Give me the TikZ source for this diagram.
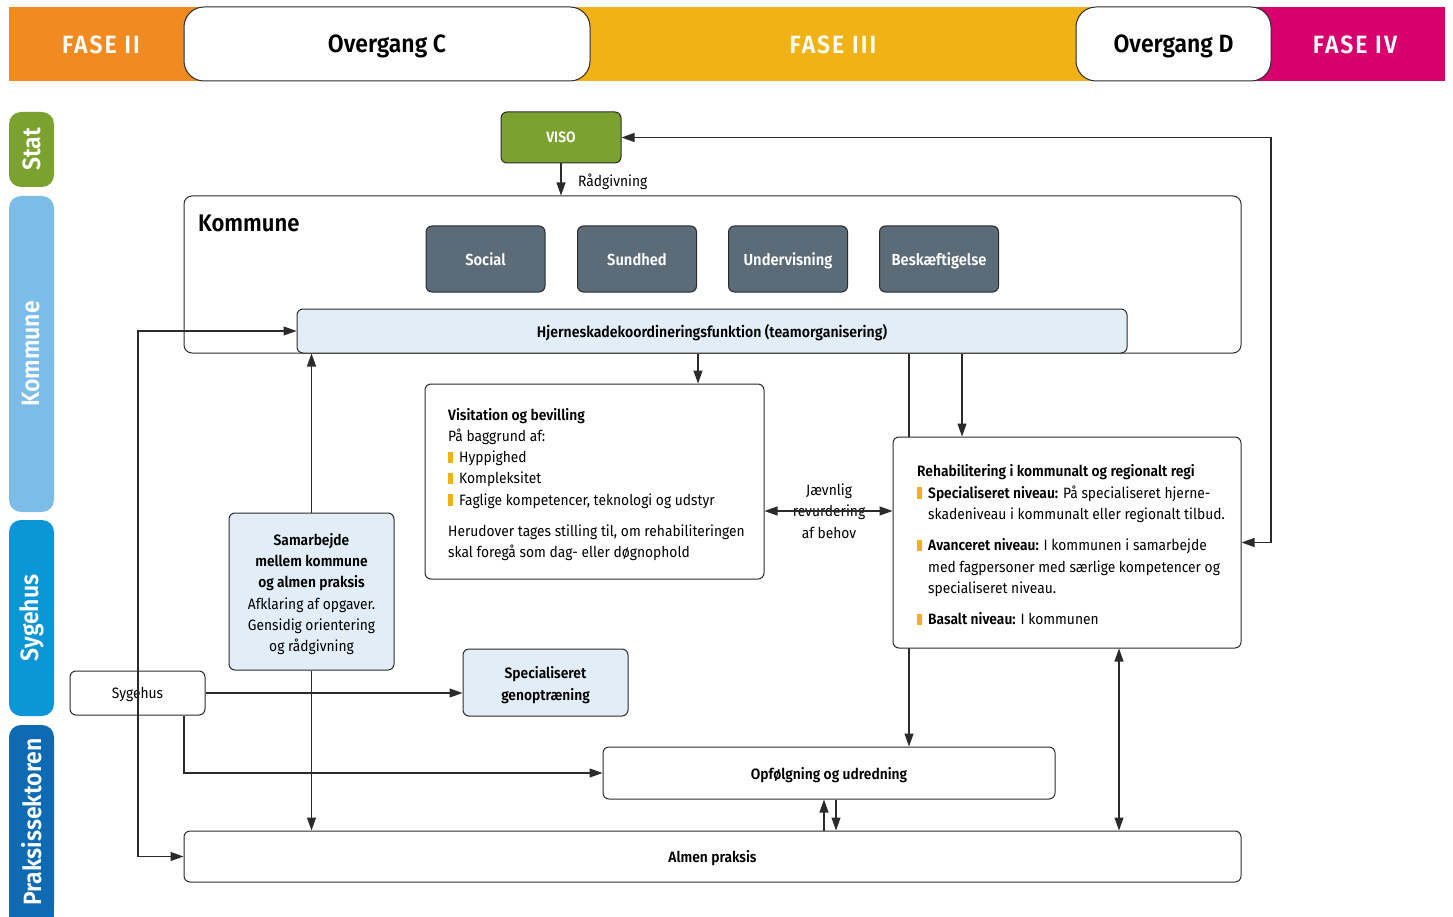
\documentclass[tikz,border=0pt]{standalone}
\usepackage{fontspec}
\setmainfont{Fira Sans}[FakeStretch=0.92,BoldFont={Fira Sans SemiBold}]
\usetikzlibrary{arrows.meta,calc,backgrounds}
\definecolor{faseo}{HTML}{F18B21}
\definecolor{fasey}{HTML}{F0B214}
\definecolor{fasem}{HTML}{D7006C}
\definecolor{statg}{HTML}{7BA22F}
\definecolor{komb}{HTML}{7CBDE8}
\definecolor{sygb}{HTML}{0B96D7}
\definecolor{prab}{HTML}{0F6AB4}
\definecolor{dgray}{HTML}{5B6B77}
\definecolor{lblue}{HTML}{E1EEF8}
\definecolor{lc}{HTML}{2B2B2B}
\newcommand\bul{\textcolor{fasey}{\rule[-0.5pt]{5pt}{11.5pt}}\hspace{6pt}}
\newcommand\ind{\hspace*{11pt}}
\begin{document}
\begin{tikzpicture}[x=1pt,y=-1pt,
  box/.style={draw=lc,line width=1pt,rounded corners=6pt,fill=white,inner sep=0pt,
    font=\fontsize{15}{21.3}\selectfont},
  one/.style={text depth=0pt},
  topbox/.style={draw=lc,line width=1pt,rounded corners=20pt,fill=white,inner sep=0pt,text depth=0pt,
    font=\fontsize{25}{28}\selectfont\bfseries},
  fasetxt/.style={text=white,font=\fontsize{25}{28}\selectfont\bfseries\addfontfeature{LetterSpace=8},inner sep=0pt},
  side/.style={rounded corners=12pt,inner sep=0pt,rotate=90,minimum height=45pt,
    text=white,font=\fontsize{25}{28}\selectfont\bfseries},
  gbox/.style={box,one,fill=dgray,text=white,minimum width=119pt,minimum height=66pt,
    font=\fontsize{16}{19}\selectfont\bfseries},
  txt/.style={inner sep=0pt,align=left,font=\fontsize{15}{21.3}\selectfont},
  arr/.style={line width=1.1pt,draw=lc,-{Triangle[length=13pt,width=9pt]}},
  darr/.style={line width=1.1pt,draw=lc,{Triangle[length=13pt,width=9pt]}-{Triangle[length=13pt,width=9pt]}}]
\useasboundingbox (0,0) rectangle (1453,917);
% top bar
\fill[faseo] (9,7) rectangle (400,81);
\fill[fasey] (400,7) rectangle (1170,81);
\fill[fasem] (1170,7) rectangle (1445,81);
\node[topbox,minimum width=406pt,minimum height=74pt] (ovc) at (387,44) {Overgang C};
\node[topbox,minimum width=195pt,minimum height=74pt] (ovd) at (1173.5,44) {Overgang D};
\node[fasetxt] (f2) at (101,45) {FASE II};
\node[fasetxt] (f3) at (833,45) {FASE III};
\node[fasetxt] (f4) at (1355,45) {FASE IV};
% side bars
\node[side,fill=statg,minimum width=75pt] (sstat) at (31.5,149.5) {Stat};
\node[side,fill=komb,minimum width=316pt] (skom) at (31.5,354) {Kommune};
\node[side,fill=sygb,minimum width=196pt] (ssyg) at (31.5,618) {Sygehus};
\fill[prab] (9,850) rectangle (54,917);
\node[side,fill=prab,minimum width=194pt] (sprak) at (31.5,822) {Praksissektoren};
% VISO
\node[box,one,fill=statg,text=white,minimum width=120pt,minimum height=51pt,
  font=\fontsize{15}{18}\selectfont\bfseries] (viso) at (561,137.5) {VISO};
% Kommune
\node[box,rounded corners=8pt,minimum width=1057pt,minimum height=157pt] (kom) at (712.5,274.5) {};
\node[inner sep=0pt,anchor=west,font=\fontsize{24}{28}\selectfont\bfseries] (komlab) at (198,223) {Kommune};
\node[gbox] (soc) at (485.5,259) {Social};
\node[gbox] (sun) at (637,259) {Sundhed};
\node[gbox] (und) at (788,259) {Undervisning};
\node[gbox] (bes) at (939,259) {Beskæftigelse};
\node[box,one,fill=lblue,minimum width=830pt,minimum height=44pt,font=\fontsize{15.3}{19}\selectfont\bfseries] (hj) at (712,331)
  {Hjerneskadekoordineringsfunktion (teamorganisering)};
% Visitation
\node[box,minimum width=339pt,minimum height=195pt] (vis) at (594.5,481.5) {};
\node[txt,anchor=west] (vistxt) at (448,484.5) {\textbf{Visitation og bevilling}\\
  På baggrund af:\\
  \bul Hyppighed\\
  \bul Kompleksitet\\
  \bul Faglige kompetencer, teknologi og udstyr\\[10pt]
  Herudover tages stilling til, om rehabiliteringen\\
  skal foregå som dag- eller døgnophold};
% Rehabilitering
\node[box,minimum width=348pt,minimum height=211pt] (reh) at (1067,542.5) {};
\node[txt,anchor=west] (rehtxt) at (917,545) {\textbf{Rehabilitering i kommunalt og regionalt regi}\\
  \bul\textbf{Specialiseret niveau:} På specialiseret hjerne-\\
  \ind skadeniveau i kommunalt eller regionalt tilbud.\\[10pt]
  \bul\textbf{Avanceret niveau:} I kommunen i samarbejde\\
  \ind med fagpersoner med særlige kompetencer og\\
  \ind specialiseret niveau.\\[10pt]
  \bul\textbf{Basalt niveau:} I kommunen};
% Samarbejde
\node[box,fill=lblue,minimum width=165pt,minimum height=157pt] (sam) at (311.5,591.5) {};
\node[txt,align=center] (samtxt) at (311.5,594) {\textbf{Samarbejde}\\ \textbf{mellem kommune}\\ \textbf{og almen praksis}\\
   Afklaring af opgaver.\\ Gensidig orientering\\ og rådgivning};
% Specialiseret genoptraening
\node[box,fill=lblue,minimum width=165pt,minimum height=67pt] (spec) at (545.5,682.5) {};
\node[txt,align=center] (spectxt) at (545.5,685) {\textbf{Specialiseret}\\ \textbf{genoptræning}};
% Sygehus
\node[box,one,minimum width=135pt,minimum height=44pt] (syg) at (137.5,693) {Sygehus};
% Opfolgning, Almen praksis
\node[box,one,minimum width=452pt,minimum height=52pt,font=\fontsize{15}{18}\selectfont\bfseries] (opf) at (829,773) {Opfølgning og udredning};
\node[box,one,minimum width=1057pt,minimum height=51pt,font=\fontsize{15}{18}\selectfont\bfseries] (alm) at (712.5,856.5) {Almen praksis};
% label
\node[txt,align=center] (jaev) at (829,511) {Jævnlig\\revurdering\\af behov};
% helper coordinates
\coordinate (rgt) at (1271,137.5);
\coordinate (lft) at (138,331);
\coordinate (x698) at (698,0);
\coordinate (x909) at (909,0);
\coordinate (x962) at (962,0);
\coordinate (x1119) at (1119,0);
\coordinate (x184) at (184,0);
\coordinate (x824) at (824,0);
\coordinate (x836) at (836,0);
\coordinate (y511) at (0,511);
% connectors
\draw[arr] (viso.south) -- (viso.south |- kom.north);
\node[txt,anchor=west] (raad) at (578,181.5) {Rådgivning};
\draw[darr] (reh.east) -| (rgt) -- (viso.east);
\draw[darr] (hj.west) -- (lft) |- (alm.west);
\draw[arr] (sam.north) -- (sam.north |- hj.south);
\draw[arr] (sam.south) -- (sam.south |- alm.north);
\draw[arr] (x698 |- hj.south) -- (x698 |- vis.north);
\begin{scope}[on background layer]
\draw[arr] (x909 |- hj.south) -- (x909 |- opf.north);
\end{scope}
\draw[arr] (x962 |- hj.south) -- (x962 |- reh.north);
\draw[darr] (vis.east |- y511) -- (reh.west |- y511);
\draw[darr] (x1119 |- reh.south) -- (x1119 |- alm.north);
\draw[arr] (syg.east) -- (syg.east -| spec.west);
\draw[arr] (x184 |- syg.south) |- (opf.west);
\draw[arr] (x824 |- alm.north) -- (x824 |- opf.south);
\draw[arr] (x836 |- opf.south) -- (x836 |- alm.north);
\end{tikzpicture}
\end{document}
